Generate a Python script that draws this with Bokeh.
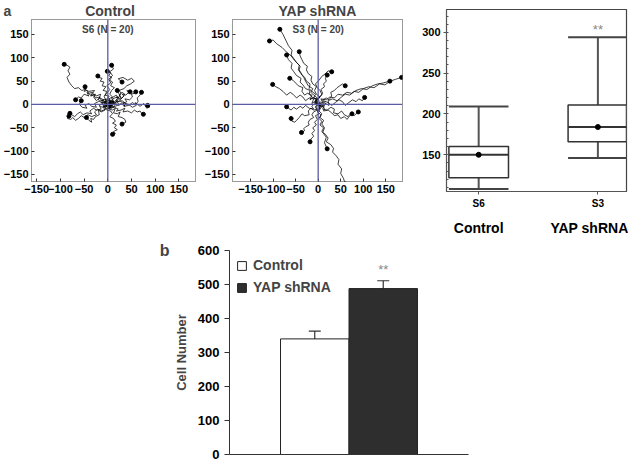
from bokeh.plotting import figure
from bokeh.models import (Range1d, FixedTicker, Span, Label, ColumnDataSource, Whisker,
                          TeeHead, LinearAxis)
from bokeh.layouts import row, column
from bokeh.embed import file_html
from bokeh.resources import INLINE

# ---------------- data ----------------
TRAJ_TICKS = [-150, -100, -50, 0, 50, 100, 150]

CTRL_X = [
    [0, -6, -3, -12, -18, -15, -25, -32, -28, -40, -48, -55, -62, -70, -76, -82, -86, -80, -84, -80, -86, -92],
    [0, -4, -10, -6, -14, -20, -16, -26, -30, -36, -32, -40, -44, -50, -46, -48],
    [0, 5, -2, 3, -6, -2, -10, -4, -12, -8, -16, -12, -20, -21],
    [0, 6, 2, 10, 4, 8, 14, 6, 10, 4, 8, 2, 6, -1],
    [0, 6, 12, 8, 16, 22, 18, 28, 34, 30, 38, 44, 40, 47],
    [0, 8, 4, 14, 20, 16, 26, 32, 40, 36, 46, 52, 50, 56, 59],
    [0, 10, 6, 16, 24, 20, 30, 38, 34, 44, 52, 58, 64, 62, 68, 71],
    [0, 8, 4, 14, 22, 18, 28, 36, 32, 42, 50, 56, 62, 68, 72, 75],
    [0, 4, -2, 6, 10, 4, 12, 16, 10, 18, 14, 20, 12, 16, 10],
    [0, -6, -2, -12, -18, -14, -24, -30, -38, -34, -44, -52, -58, -64, -70, -76, -80],
    [0, -8, -4, -14, -22, -28, -24, -34, -42, -50, -56, -62, -68, -74, -78, -85, -82],
    [0, 8, 14, 10, 20, 28, 36, 32, 44, 52, 60, 58, 68, 76, 82, 89, 84],
    [0, -6, -12, -8, -18, -24, -30, -26, -36, -44, -40, -50, -56, -62, -68],
    [0, 6, 12, 8, 18, 22, 28, 24, 34, 40, 48, 56, 50, 42, 32, 22, 30],
    [0, -4, -10, -6, -14, -20, -18, -26, -30, -36, -34, -40, -45],
    [0, 6, 2, 10, 16, 12, 20, 26, 22, 30, 36, 38, 34, 30],
    [0, 8, 14, 10, 20, 26, 32, 36, 30, 24, 28, 20],
    [0, -8, -14, -10, -20, -28, -24, -34, -40, -48, -44, -54, -60, -56],
    [0, -6, 4, 10, -4, 6, 12, 2, -8, -2, 8, 2],
    [0, -4, -8, -2, 4, -2, 6, 2, 10, 4, 12, 8],
]
CTRL_Y = [
    [0, 5, 12, 8, 14, 22, 18, 24, 30, 28, 32, 30, 36, 34, 40, 48, 58, 65, 72, 80, 84, 86],
    [0, -6, -2, 6, 4, 10, 16, 14, 20, 18, 26, 24, 30, 28, 34, 38],
    [0, 6, 10, 18, 20, 28, 30, 38, 40, 48, 50, 56, 58, 61],
    [0, 4, 12, 16, 22, 30, 36, 40, 48, 52, 58, 62, 68, 71],
    [0, -4, 2, 8, 4, 10, 16, 12, 18, 22, 20, 26, 30, 27],
    [0, 2, 8, 6, 12, 4, 8, 2, 6, 12, 10, 16, 22, 24, 27],
    [0, -4, 4, 2, -2, 6, 8, 2, -4, -2, 4, 0, 6, 14, 20, 26],
    [0, -2, -8, -6, -10, -14, -12, -8, -16, -14, -18, -12, -16, -14, -20, -21],
    [0, -6, -12, -14, -20, -26, -30, -36, -40, -44, -50, -54, -58, -62, -64],
    [0, 4, -4, -6, -2, -10, -12, -8, -14, -20, -18, -22, -16, -20, -26, -22, -19],
    [0, -4, -10, -14, -10, -16, -22, -26, -22, -28, -24, -30, -34, -28, -32, -30, -25],
    [0, 4, -2, -6, -2, 2, -4, 4, 0, -6, -2, 4, -4, 2, -8, -5, -2],
    [0, 6, 2, 10, 14, 8, 16, 22, 20, 26, 18, 22, 14, 16, 10],
    [0, 8, 4, 14, 20, 14, 24, 30, 34, 40, 44, 50, 56, 52, 58, 55, 48],
    [0, -6, -4, -12, -16, -12, -22, -26, -32, -30, -38, -34, -28],
    [0, -4, -10, -12, -8, -18, -20, -16, -26, -28, -32, -38, -40, -42],
    [0, 6, 2, 12, 16, 10, 16, 22, 26, 20, 14, 30],
    [0, -2, 4, 10, 6, 2, -6, -4, 2, -2, -8, -6, 0, 8],
    [0, 6, 8, -4, -10, -6, 4, 12, 4, -6, -8, 0],
    [0, 8, 18, 24, 32, 40, 46, 54, 62, 70, 76, 84],
]

YAP_X = [
    [0, -4, -10, -6, -14, -20, -18, -26, -30, -36, -42, -40, -48, -54, -60, -58, -66, -72, -78, -85],
    [0, -6, -2, -10, -16, -12, -22, -28, -32, -38, -44, -42, -52, -60, -70, -80, -92, -100, -108],
    [0, -8, -4, -14, -20, -18, -28, -34, -40, -38, -48, -54, -60, -58, -66, -70],
    [0, -2, 4, -4, -8, -4, -12, -16, -14, -22, -26, -24, -32, -36, -40, -42],
    [0, -8, -14, -10, -20, -28, -34, -40, -48, -56, -62, -70, -78, -86, -94, -101],
    [0, -6, -2, -12, -18, -14, -24, -30, -36, -34, -44, -50, -56, -63],
    [0, 8, 16, 24, 22, 32, 42, 52, 60, 70, 80, 90, 100, 112, 124, 136, 148, 160, 172, 185],
    [0, 10, 6, 18, 26, 36, 44, 54, 64, 74, 84, 96, 108, 120, 132, 144, 159],
    [0, 8, 16, 12, 22, 30, 38, 46, 54, 60, 68, 76, 84, 90, 98, 103],
    [0, 8, 14, 10, 20, 28, 36, 34, 44, 52, 58, 66, 72, 80, 86, 89],
    [0, -6, -2, -10, -14, -10, -18, -22, -20, -28, -32, -30, -37],
    [0, 4, -2, 2, -6, -2, -8, -4, -12, -8, -14, -10, -16, -18],
    [0, 4, -2, 6, 2, 8, 4, 12, 8, 16, 22, 18, 28, 34, 32, 40, 46, 44, 52, 50, 56, 60],
    [0, 6, 2, 8, 4, 12, 8, 14, 10, 18, 14, 20],
    [0, 4, -2, 6, 10, 6, 14, 12, 18, 16, 20],
    [0, 6, 12, 10, 18, 24, 30, 28, 36, 42, 48, 54, 60],
    [0, 8, 14, 12, 22, 30, 36, 44, 50, 58, 64, 70, 75],
    [0, -6, -2, -10, -16, -22, -20, -30, -36, -42, -48, -52, -58, -60],
    [0, -8, -14, -10, -20, -28, -34, -40, -48, -54, -60, -66, -70],
    [0, -6, 2, 8, 4, -2, -6, 2, 8, 16, 22, 30],
]
YAP_Y = [
    [0, 8, 14, 22, 28, 34, 44, 50, 58, 64, 74, 82, 90, 98, 106, 116, 126, 138, 150, 161],
    [0, 6, 14, 20, 26, 34, 40, 50, 58, 66, 74, 84, 94, 104, 112, 122, 130, 138, 136],
    [0, 4, 12, 16, 22, 30, 34, 42, 48, 56, 62, 70, 78, 88, 96, 106],
    [0, 8, 16, 22, 30, 38, 44, 52, 60, 66, 74, 82, 88, 96, 104, 113],
    [0, 6, 2, 12, 14, 8, 16, 20, 14, 22, 26, 20, 28, 34, 38, 43],
    [0, 4, 12, 14, 10, 20, 24, 20, 28, 36, 40, 46, 52, 56],
    [0, -4, 2, -2, 8, 12, 8, 16, 22, 20, 28, 26, 34, 38, 36, 44, 42, 50, 54, 58],
    [0, 4, 12, 10, 16, 14, 22, 20, 26, 24, 30, 34, 32, 40, 44, 46, 50],
    [0, -4, 2, 8, 4, -2, 4, 10, 6, -2, 4, 10, 6, 12, 8, 15],
    [0, -6, -2, -10, -12, -6, -10, -18, -20, -14, -22, -26, -20, -24, -18, -16],
    [0, -6, -12, -16, -22, -28, -32, -38, -44, -48, -52, -56, -60],
    [0, -8, -12, -20, -24, -32, -38, -44, -50, -56, -62, -68, -74, -80],
    [0, -8, -16, -22, -30, -36, -44, -50, -58, -64, -72, -80, -86, -94, -102, -110, -118, -128, -138, -148, -158, -170],
    [0, -6, -14, -20, -28, -34, -42, -50, -60, -70, -82, -95],
    [0, 6, 12, 18, 24, 32, 38, 44, 50, 56, 63],
    [0, 4, 2, 10, 14, 10, 18, 26, 30, 36, 40, 44, 40],
    [0, -2, -8, -14, -12, -18, -24, -22, -30, -26, -32, -24, -20],
    [0, -4, -10, -12, -8, -14, -22, -24, -20, -28, -34, -38, -36, -30],
    [0, 2, -4, -10, -8, -2, -8, -4, -10, -6, -12, -8, -5],
    [0, 8, 14, 22, 30, 36, 44, 52, 60, 66, 72, 70],
]

BOX_CATS = ["S6", "S3"]
BOX_GROUPS = ["Control", "YAP shRNA"]
BOX_WLO = [108, 146]
BOX_Q1 = [122, 166]
BOX_MED = [150, 184]
BOX_Q3 = [160, 211]
BOX_WHI = [209, 294]
BOX_MEAN = [150, 184]
BOX_TICKS = [150, 200, 250, 300]

BAR_GROUPS = ["Control", "YAP shRNA"]
BAR_MEANS = [340, 488]
BAR_LO = [312, 462]
BAR_HI = [363, 511]
BAR_COLORS = ["white", "#2e2e2e"]
CELL_TICKS = [0, 100, 200, 300, 400, 500, 600]

FONT = "Liberation Sans"
AXBLUE = "#5b5ba6"
NB = "\u00a0"


def traj_fig(title, panel_text, xs, ys, xr, frame_w, right_border, title_align="center",
             title_offset=0):
    p = figure(frame_width=frame_w, frame_height=162, x_range=Range1d(*xr),
               y_range=Range1d(-165, 182), output_backend="svg", toolbar_location=None,
               min_border_top=0, min_border_right=right_border, min_border_bottom=4,
               min_border_left=26)
    p.title.text = title
    p.title.align = title_align
    p.title.offset = title_offset
    p.title.standoff = 1
    p.title.text_font = FONT
    p.title.text_font_style = "bold"
    p.title.text_font_size = "14px"
    p.grid.visible = False
    p.outline_line_color = "#333333"
    p.outline_line_dash = "1 1"
    p.outline_line_width = 1
    for ax in (p.xaxis[0], p.yaxis[0]):
        ax.ticker = FixedTicker(ticks=TRAJ_TICKS)
        ax.axis_line_color = None
        ax.major_tick_in = 3
        ax.major_tick_out = 0
        ax.major_tick_line_color = "#333333"
        ax.minor_tick_line_color = None
        ax.major_label_text_font = FONT
        ax.major_label_text_font_style = "bold"
        ax.major_label_text_font_size = "11px"
        ax.major_label_text_color = "black"
        ax.major_label_standoff = 3
    p.add_layout(Span(location=0, dimension="width", line_color=AXBLUE, line_width=1.3))
    p.add_layout(Span(location=0, dimension="height", line_color=AXBLUE, line_width=1.3))
    p.multi_line(xs=xs, ys=ys, line_color="black", line_width=0.75)
    p.scatter(x=[t[-1] for t in xs], y=[t[-1] for t in ys], size=4, color="black")
    p.add_layout(Label(x=0, y=160, text=panel_text, text_align="center", text_baseline="middle",
                       text_font=FONT, text_font_style="bold", text_font_size="10px"))
    return p


f1 = traj_fig("a" + NB * 19 + "Control", "S6 (N = 20)", CTRL_X, CTRL_Y, (-161, 185), 164, 6,
              title_align="left", title_offset=-28)
f2 = traj_fig("YAP shRNA", "S3 (N = 20)", YAP_X, YAP_Y, (-190, 187), 170, 8)

# ---------------- box plot ----------------
bx = [i + 1 for i in range(len(BOX_CATS))]
hw = 0.25
f3 = figure(frame_width=180, frame_height=182, x_range=Range1d(0.73, 2.24),
            y_range=Range1d(105, 328), output_backend="svg", toolbar_location=None,
            title_location=None, frame_align=False,
            min_border_top=9, min_border_right=2, min_border_left=36, min_border_bottom=42)
f3.grid.visible = False
f3.outline_line_color = "#444444"
f3.outline_line_width = 1.2
f3.xaxis.ticker = FixedTicker(ticks=bx)
f3.xaxis.major_label_overrides = {x: c for x, c in zip(bx, BOX_CATS)}
f3.yaxis.ticker = FixedTicker(ticks=BOX_TICKS, minor_ticks=list(range(110, 330, 10)))
for ax in (f3.xaxis[0], f3.yaxis[0]):
    ax.axis_line_color = "#555555"
    ax.major_tick_out = 3
    ax.major_tick_in = 0
    ax.major_tick_line_color = "#555555"
    ax.major_label_text_font = FONT
    ax.major_label_text_font_style = "bold"
    ax.major_label_text_color = "black"
    ax.major_label_standoff = 3
f3.xaxis.major_label_text_font_size = "10px"
f3.xaxis.minor_tick_line_color = None
f3.yaxis.major_label_text_font_size = "11px"
f3.yaxis.minor_tick_in = 2
f3.yaxis.minor_tick_out = 0
f3.yaxis.minor_tick_line_color = "#555555"
grp_axis = LinearAxis(ticker=FixedTicker(ticks=bx),
                      major_label_overrides={x: g for x, g in zip(bx, BOX_GROUPS)},
                      axis_line_color=None, major_tick_line_color=None,
                      minor_tick_line_color=None, major_label_text_font=FONT,
                      major_label_text_font_style="bold", major_label_text_font_size="14px",
                      major_label_text_color="black", major_label_standoff=2)
f3.add_layout(grp_axis, "below")

f3.segment(x0=bx, y0=BOX_WLO, x1=bx, y1=BOX_Q1, line_color="#555555", line_width=2)
f3.segment(x0=bx, y0=BOX_Q3, x1=bx, y1=BOX_WHI, line_color="#555555", line_width=2)
f3.segment(x0=[x - hw for x in bx], y0=BOX_WLO, x1=[x + hw for x in bx], y1=BOX_WLO,
           line_color="#444444", line_width=2)
f3.segment(x0=[x - hw for x in bx], y0=BOX_WHI, x1=[x + hw for x in bx], y1=BOX_WHI,
           line_color="#444444", line_width=2)
f3.vbar(x=bx, width=2 * hw, bottom=BOX_Q1, top=BOX_Q3, fill_color="white",
        line_color="#333333", line_width=1.5)
f3.segment(x0=[x - hw for x in bx], y0=BOX_MED, x1=[x + hw for x in bx], y1=BOX_MED,
           line_color="#333333", line_width=2)
f3.scatter(x=bx, y=BOX_MEAN, size=5, color="black")
f3.add_layout(Label(x=bx[1], y=303, text="**", text_align="center", text_baseline="middle",
                    text_font=FONT, text_font_size="13px", text_color="#888888"))

# ---------------- panel letter b (blank holder figure) ----------------
fb = figure(frame_width=170, frame_height=224, x_range=Range1d(0, 170), y_range=Range1d(0, 224),
            output_backend="svg", toolbar_location=None, title_location=None,
            frame_align=False, min_border=0)
fb.axis.visible = False
fb.grid.visible = False
fb.outline_line_color = None
fb.add_layout(Label(x=169, y=212, text="b", text_align="right", text_baseline="middle",
                    text_font=FONT, text_font_style="bold", text_font_size="16px"))

# ---------------- bar chart ----------------
barx = [i + 1 for i in range(len(BAR_GROUPS))]
f4 = figure(frame_width=239, frame_height=204, x_range=Range1d(-0.245, 3.245),
            y_range=Range1d(0, 600), output_backend="svg", toolbar_location=None,
            title_location=None,
            min_border_top=12, min_border_right=4, min_border_left=50, min_border_bottom=8)
f4.grid.visible = False
f4.outline_line_color = None
f4.xaxis.ticker = FixedTicker(ticks=[])
f4.xaxis.major_label_text_font_size = "0px"
f4.xaxis.axis_line_color = "#333333"
f4.xaxis.major_tick_line_color = None
f4.xaxis.minor_tick_line_color = None
f4.yaxis.ticker = FixedTicker(ticks=CELL_TICKS)
f4.yaxis.axis_line_color = "#333333"
f4.yaxis.major_tick_line_color = "#333333"
f4.yaxis.major_tick_out = 5
f4.yaxis.major_tick_in = 0
f4.yaxis.minor_tick_line_color = None
f4.yaxis.major_label_text_font = FONT
f4.yaxis.major_label_text_font_style = "bold"
f4.yaxis.major_label_text_font_size = "13px"
f4.yaxis.major_label_text_color = "black"
f4.yaxis.axis_label = "Cell Number"
f4.yaxis.axis_label_text_font = FONT
f4.yaxis.axis_label_text_font_style = "bold"
f4.yaxis.axis_label_text_font_size = "13px"
f4.yaxis.axis_label_standoff = 6

bar_src = ColumnDataSource(dict(x=barx, top=BAR_MEANS, color=BAR_COLORS, label=BAR_GROUPS,
                                lower=BAR_LO, upper=BAR_HI))
f4.vbar(x="x", top="top", width=1.0, bottom=0, fill_color="color", line_color="#222222",
        line_width=1, source=bar_src, legend_field="label")
f4.add_layout(Whisker(source=bar_src, base="x", lower="lower", upper="upper",
                      line_color="#333333", line_width=1.2,
                      upper_head=TeeHead(size=12, line_color="#333333", line_width=1.2),
                      lower_head=TeeHead(size=12, line_color="#333333", line_width=1.2)))
f4.add_layout(Label(x=barx[1], y=545, text="**", text_align="center", text_baseline="middle",
                    text_font=FONT, text_font_size="13px", text_color="#888888"))
lg = f4.legend[0]
lg.location = "top_left"
lg.border_line_color = None
lg.background_fill_alpha = 0
lg.label_text_font = FONT
lg.label_text_font_style = "bold"
lg.label_text_font_size = "14px"
lg.glyph_width = 11
lg.glyph_height = 11
lg.label_standoff = 6
lg.spacing = 6
lg.padding = 0
lg.margin = 7
lg.label_height = 14

layout = column(row(f1, f2, f3), row(fb, f4))

with open("out.html", "w") as fh:
    fh.write(file_html(layout, INLINE))
